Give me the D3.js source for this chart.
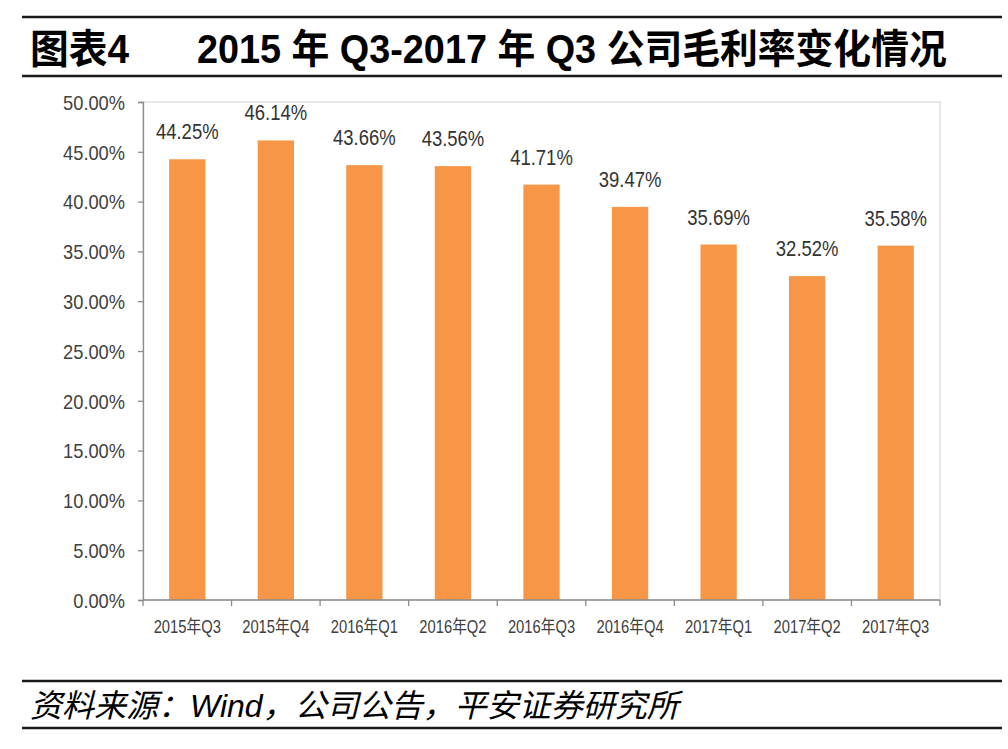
<!DOCTYPE html>
<html><head><meta charset="utf-8">
<script src="https://cdn.jsdelivr.net/npm/d3@7/dist/d3.min.js"></script>
<style>
html,body{margin:0;padding:0;background:#fff;}
svg{display:block;}
</style></head>
<body>
<svg id="chart" width="1008" height="749"></svg>
<script>
const categories = ["2015年Q3","2015年Q4","2016年Q1","2016年Q2","2016年Q3","2016年Q4","2017年Q1","2017年Q2","2017年Q3"];
const values = [0.4425,0.4614,0.4366,0.4356,0.4171,0.3947,0.3569,0.3252,0.3558];
const valueLabels = ["44.25%","46.14%","43.66%","43.56%","41.71%","39.47%","35.69%","32.52%","35.58%"];
const yTicks = [0,0.05,0.10,0.15,0.20,0.25,0.30,0.35,0.40,0.45,0.50];
const titleLeft = "图表4";
const titleRight = "2015 年 Q3-2017 年 Q3 公司毛利率变化情况";
const sourceText = "资料来源：Wind，公司公告，平安证券研究所";

const svg = d3.select("#chart");
const latin = "'Liberation Sans', Arial, 'Noto Sans CJK SC', sans-serif";

const plot = {left:143, right:940, top:102, bottom:600};
const x = d3.scaleBand().domain(categories).range([plot.left, plot.right]).paddingInner(0.59).paddingOuter(0.295);
const y = d3.scaleLinear().domain([0,0.5]).range([plot.bottom, plot.top]);

// header / footer rules
[17,76,681,728].forEach(yy=>{
  svg.append("line").attr("x1",22).attr("x2",1002).attr("y1",yy).attr("y2",yy)
    .attr("stroke","#1a1a1a").attr("stroke-width",2.5);
});

function narrowText(sel, sx){
  sel.each(function(){
    const t = d3.select(this);
    const xx = +t.attr("x"), yy = +t.attr("y");
    t.attr("transform",`translate(${xx},${yy}) scale(${sx},1) translate(${-xx},${-yy})`);
  });
  return sel;
}

// title
narrowText(svg.append("text").attr("x",30).attr("y",63).text(titleLeft)
  .attr("font-family",latin).attr("font-weight","bold").attr("font-size",40).attr("fill","#000"),0.97);
narrowText(svg.append("text").attr("x",197).attr("y",63).text(titleRight)
  .attr("font-family",latin).attr("font-weight","bold").attr("font-size",40).attr("fill","#000"),0.945);

// source
svg.append("text").attr("x",30).attr("y",717).text(sourceText)
  .attr("font-family",latin).attr("font-style","italic").attr("font-size",32).attr("fill","#000");

// plot border
svg.append("rect").attr("x",plot.left).attr("y",plot.top)
  .attr("width",plot.right-plot.left).attr("height",plot.bottom-plot.top)
  .attr("fill","none").attr("stroke","#d9d9d9").attr("stroke-width",1.2);

// bars
svg.append("g").selectAll("rect").data(values).join("rect")
  .attr("x",(d,i)=>x(categories[i]))
  .attr("y",d=>y(d))
  .attr("width",x.bandwidth())
  .attr("height",d=>y(0)-y(d))
  .attr("fill","#F79646");

// value labels
narrowText(svg.append("g").selectAll("text").data(values).join("text")
  .attr("x",(d,i)=>x(categories[i])+x.bandwidth()/2)
  .attr("y",d=>y(d)-20)
  .attr("text-anchor","middle")
  .attr("font-family",latin).attr("font-size",22).attr("fill","#333")
  .text((d,i)=>valueLabels[i]),0.84);

// y axis
const yAxis = d3.axisLeft(y).tickValues(yTicks).tickSize(5).tickPadding(13)
  .tickFormat(d=>(d*100).toFixed(2)+"%");
const gy = svg.append("g").attr("transform",`translate(${plot.left},0)`).call(yAxis);
gy.select(".domain").attr("stroke","#8c8c8c").attr("stroke-width",1.3);
gy.selectAll(".tick line").attr("stroke","#8c8c8c").attr("stroke-width",1.3);
gy.selectAll(".tick text").attr("font-family",latin).attr("font-size",21).attr("fill","#404040")
  .attr("dy","0.35em");
gy.selectAll(".tick text").each(function(){
  const t=d3.select(this); const xx=+t.attr("x");
  t.attr("transform",`translate(${xx},0) scale(0.87,1) translate(${-xx},0)`);
});

// x axis with boundary ticks
const gx = svg.append("g");
gx.append("line").attr("x1",plot.left).attr("x2",plot.right).attr("y1",plot.bottom).attr("y2",plot.bottom)
  .attr("stroke","#8c8c8c").attr("stroke-width",1.3);
const step = x.step();
const bounds = categories.map(c=>x(c)-(step-x.bandwidth())/2).concat([x(categories[categories.length-1])+x.bandwidth()+(step-x.bandwidth())/2]);
gx.selectAll("line.tk").data(bounds).join("line").attr("class","tk")
  .attr("x1",d=>d).attr("x2",d=>d).attr("y1",plot.bottom).attr("y2",plot.bottom+6)
  .attr("stroke","#8c8c8c").attr("stroke-width",1.3);
narrowText(gx.selectAll("text").data(categories).join("text")
  .attr("x",d=>x(d)+x.bandwidth()/2).attr("y",plot.bottom+33)
  .attr("text-anchor","middle").attr("font-family",latin).attr("font-size",18).attr("fill","#404040")
  .text(d=>d),0.82);
</script>
</body></html>
